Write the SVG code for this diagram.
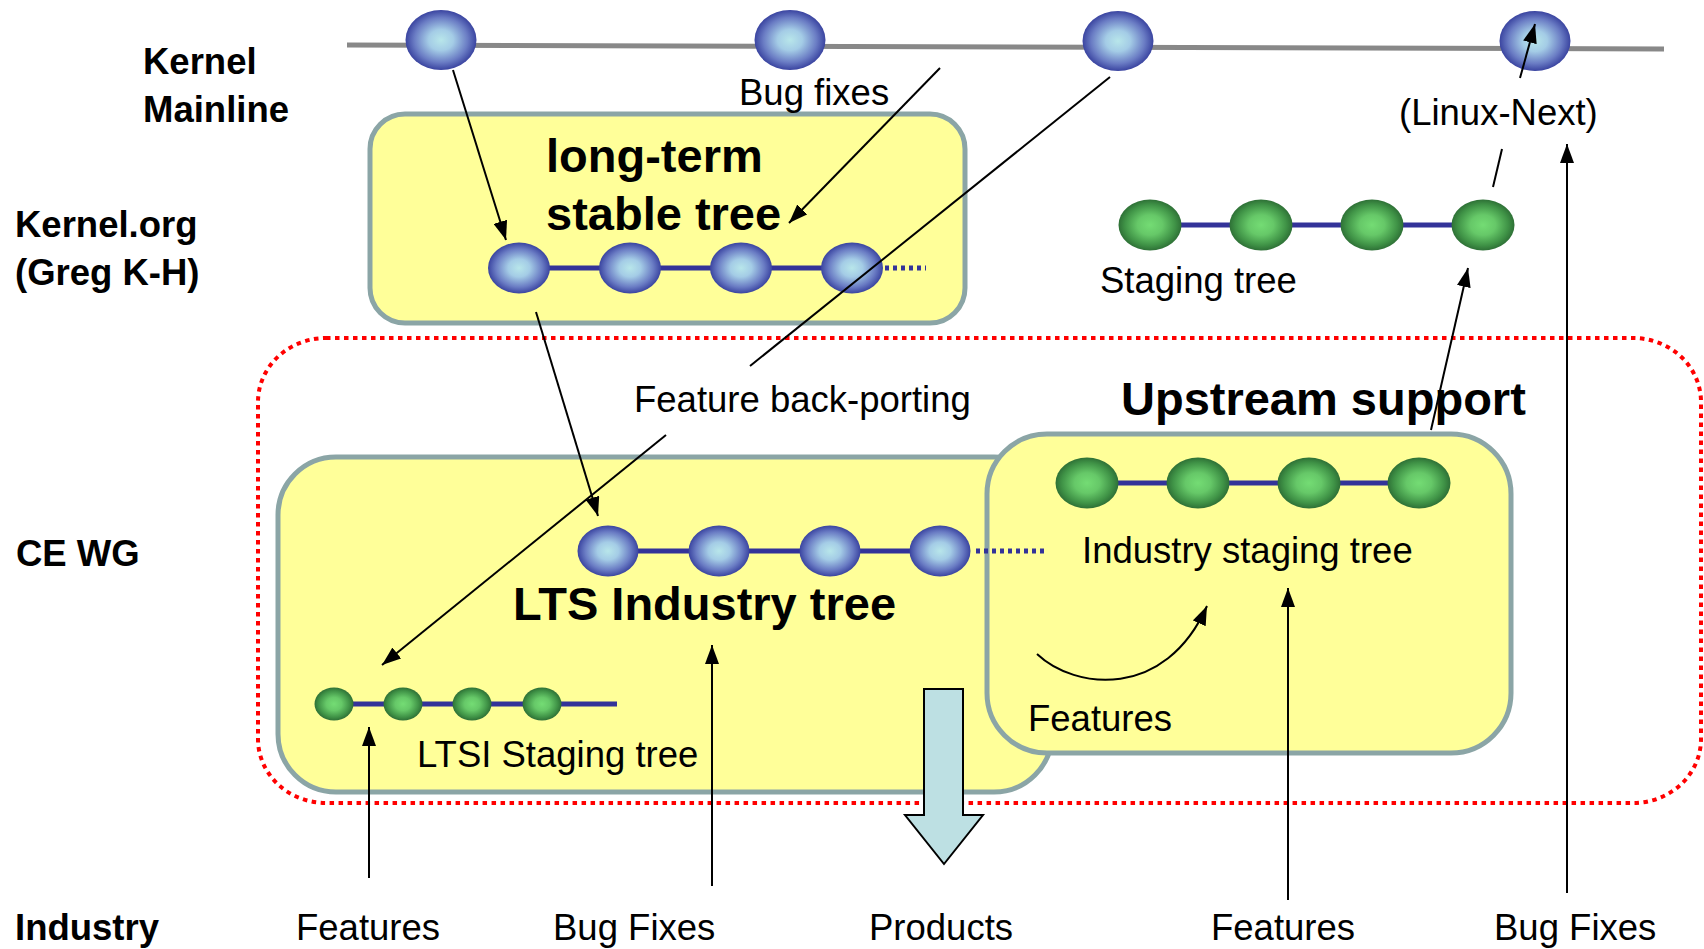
<svg xmlns="http://www.w3.org/2000/svg" width="1704" height="949" viewBox="0 0 1704 949">
<defs>
<radialGradient id="gBlue" cx="50%" cy="50%" r="50%">
<stop offset="0" stop-color="#b8e6ea"/>
<stop offset="0.35" stop-color="#a4cce6"/>
<stop offset="0.75" stop-color="#6a7cc4"/>
<stop offset="1" stop-color="#3a44a0"/>
</radialGradient>
<radialGradient id="gGreen" cx="50%" cy="50%" r="50%">
<stop offset="0" stop-color="#74dc74"/>
<stop offset="0.4" stop-color="#66c868"/>
<stop offset="0.8" stop-color="#3f9246"/>
<stop offset="1" stop-color="#2e7036"/>
</radialGradient>
<marker id="ah" markerUnits="userSpaceOnUse" markerWidth="20" markerHeight="14" refX="19" refY="7" orient="auto">
<path d="M0,0 L19,7 L0,14 z" fill="#000"/>
</marker>
<style>
.box{fill:#ffff99;stroke:#8ba5a6;stroke-width:5}
.bn{fill:url(#gBlue)}
.gn{fill:url(#gGreen)}
.chain{stroke:#333399;stroke-width:5;fill:none}
.dot{stroke:#333399;stroke-width:5;stroke-dasharray:4 4;fill:none}
.conn{stroke:#000;stroke-width:2;fill:none}
.arr{stroke:#000;stroke-width:2;fill:none;marker-end:url(#ah)}
.t{font-family:"Liberation Sans",Arial,sans-serif;font-size:36.5px;fill:#000}
.tb{font-family:"Liberation Sans",Arial,sans-serif;font-size:36.5px;font-weight:bold;fill:#000}
.big{font-family:"Liberation Sans",Arial,sans-serif;font-size:47px;font-weight:bold;fill:#000}
</style>
</defs>
<rect width="1704" height="949" fill="#fff"/>

<g id="ce-wg-region">
<rect x="258" y="338" width="1443" height="465" rx="68" ry="64" fill="none" stroke="#ff0000" stroke-width="4" stroke-dasharray="4.5 4.5"/>
</g>

<g id="mainline">
<line x1="347" y1="45" x2="1664" y2="49" stroke="#888" stroke-width="5"/>
<ellipse class="bn" cx="441" cy="40" rx="35.5" ry="30"/>
<ellipse class="bn" cx="790" cy="40" rx="35.5" ry="30"/>
<ellipse class="bn" cx="1118" cy="41" rx="35.5" ry="30"/>
<ellipse class="bn" cx="1535" cy="41" rx="35.5" ry="30"/>
</g>

<g id="long-term-stable-tree">
<rect class="box" x="370" y="114" width="595" height="209" rx="35"/>
<line class="chain" x1="519" y1="268" x2="852" y2="268"/>
<line class="dot" x1="885" y1="268" x2="926" y2="268"/>
<ellipse class="bn" cx="519" cy="268" rx="31" ry="25.5"/>
<ellipse class="bn" cx="630" cy="268" rx="31" ry="25.5"/>
<ellipse class="bn" cx="741" cy="268" rx="31" ry="25.5"/>
<ellipse class="bn" cx="852" cy="268" rx="31" ry="25.5"/>
<text class="big" x="546" y="172" font-size="47.5">long-term</text>
<text class="big" x="546" y="230" font-size="47">stable tree</text>
</g>

<g id="staging-tree">
<line class="chain" x1="1150" y1="225" x2="1483" y2="225"/>
<ellipse class="gn" cx="1150" cy="225" rx="31.5" ry="25.5"/>
<ellipse class="gn" cx="1261" cy="225" rx="31.5" ry="25.5"/>
<ellipse class="gn" cx="1372" cy="225" rx="31.5" ry="25.5"/>
<ellipse class="gn" cx="1483" cy="225" rx="31.5" ry="25.5"/>
<text class="t" x="1100" y="293">Staging tree</text>
</g>

<g id="lts-industry-tree">
<rect class="box" x="278" y="457" width="774" height="335" rx="58"/>
<line class="chain" x1="608" y1="551" x2="940" y2="551"/>
<ellipse class="bn" cx="608" cy="551" rx="30.5" ry="25.5"/>
<ellipse class="bn" cx="719" cy="551" rx="30.5" ry="25.5"/>
<ellipse class="bn" cx="830" cy="551" rx="30.5" ry="25.5"/>
<ellipse class="bn" cx="940" cy="551" rx="30.5" ry="25.5"/>
<text class="big" x="513" y="620" font-size="46.5">LTS Industry tree</text>
</g>

<g id="ltsi-staging-tree">
<line class="chain" x1="334" y1="704" x2="617" y2="704"/>
<ellipse class="gn" cx="334" cy="704" rx="19.5" ry="16.5"/>
<ellipse class="gn" cx="403" cy="704" rx="19.5" ry="16.5"/>
<ellipse class="gn" cx="472" cy="704" rx="19.5" ry="16.5"/>
<ellipse class="gn" cx="542" cy="704" rx="19.5" ry="16.5"/>
<text class="t" x="417" y="767">LTSI Staging tree</text>
</g>

<g id="upstream-support">
<rect class="box" x="987" y="434" width="524" height="319" rx="60"/>
<line class="chain" x1="1087" y1="483" x2="1419" y2="483"/>
<ellipse class="gn" cx="1087" cy="483" rx="31.5" ry="25.5"/>
<ellipse class="gn" cx="1198" cy="483" rx="31.5" ry="25.5"/>
<ellipse class="gn" cx="1309" cy="483" rx="31.5" ry="25.5"/>
<ellipse class="gn" cx="1419" cy="483" rx="31.5" ry="25.5"/>
<text class="t" x="1082" y="563">Industry staging tree</text>
<text class="t" x="1028" y="731">Features</text>
<text class="big" x="1121" y="415" font-size="46.5">Upstream support</text>
</g>

<g id="connectors">
<line class="dot" x1="976" y1="551" x2="1044" y2="551"/>
<line class="arr" x1="453" y1="70" x2="506" y2="240"/>
<line class="arr" x1="940" y1="68" x2="789" y2="223"/>
<line class="conn" x1="1110" y1="77" x2="750" y2="366"/>
<line class="arr" x1="666" y1="435" x2="382" y2="665"/>
<line class="arr" x1="536" y1="312" x2="598" y2="516"/>
<line class="arr" x1="1520" y1="78" x2="1535" y2="24"/>
<line class="conn" x1="1502" y1="149" x2="1493" y2="187"/>
<line class="arr" x1="1431" y1="430" x2="1468" y2="268"/>
<path class="arr" d="M1037,654 C1075,690 1165,700 1207,606"/>
<line class="arr" x1="369" y1="878" x2="369" y2="727"/>
<line class="arr" x1="712" y1="886" x2="712" y2="645"/>
<line class="arr" x1="1288" y1="900" x2="1288" y2="588"/>
<line class="arr" x1="1567" y1="893" x2="1567" y2="144"/>
</g>

<g id="products-arrow">
<path d="M924,689 L963,689 L963,815 L983,815 L944,864 L905,815 L924,815 Z" fill="#bde0e3" stroke="#000" stroke-width="2"/>
</g>

<g id="labels">
<text class="tb" x="143" y="74">Kernel</text>
<text class="tb" x="143" y="122">Mainline</text>
<text class="tb" x="15" y="237">Kernel.org</text>
<text class="tb" x="15" y="285">(Greg K-H)</text>
<text class="tb" x="16" y="566">CE WG</text>
<text class="tb" x="15" y="940">Industry</text>
<text class="t" x="739" y="105">Bug fixes</text>
<text class="t" x="1399" y="125">(Linux-Next)</text>
<text class="t" x="634" y="412">Feature back-porting</text>
<text class="t" x="296" y="940">Features</text>
<text class="t" x="553" y="940">Bug Fixes</text>
<text class="t" x="869" y="940">Products</text>
<text class="t" x="1211" y="940">Features</text>
<text class="t" x="1494" y="940">Bug Fixes</text>
</g>
</svg>
